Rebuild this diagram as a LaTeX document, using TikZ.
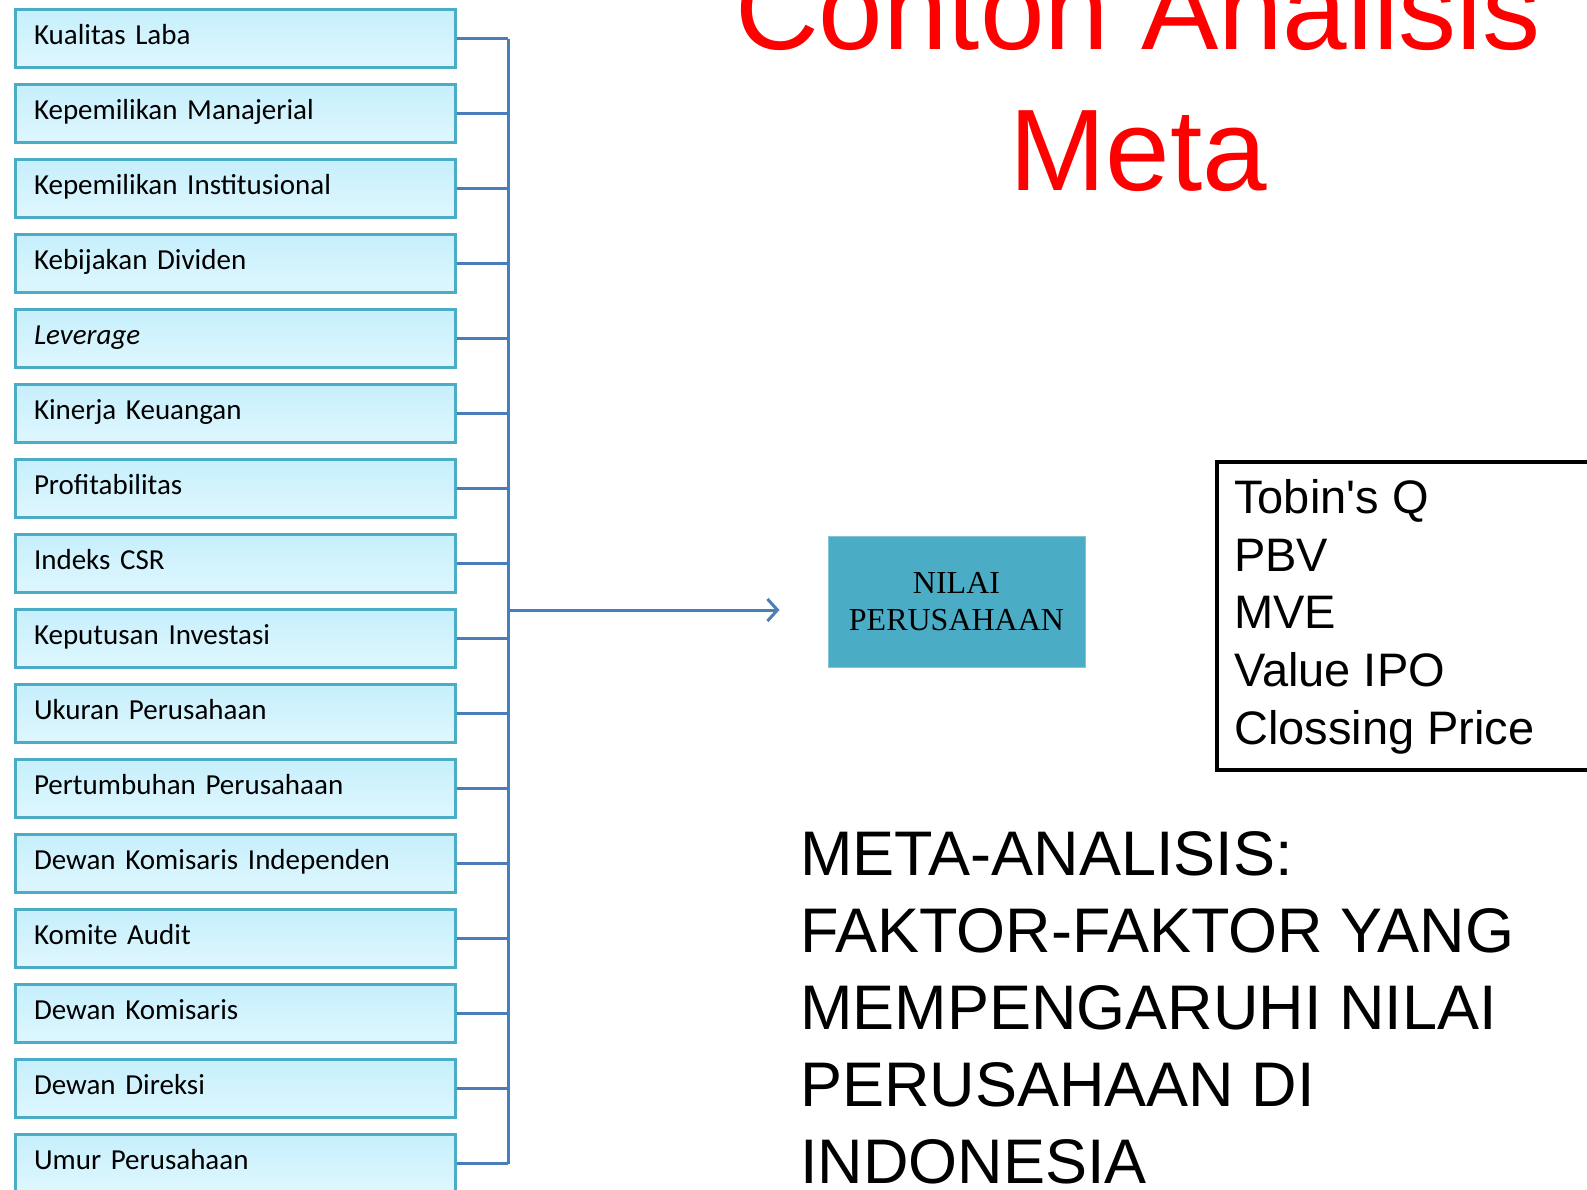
\documentclass[tikz,border=0pt]{standalone}
\usepackage{fontspec}
\setmainfont{Liberation Sans}
\newfontfamily\calfont{Carlito}
\newfontfamily\serfont{Liberation Serif}
\usetikzlibrary{positioning,arrows.meta}

\definecolor{boxline}{HTML}{4BACC6}
\definecolor{boxtop}{HTML}{C6EFFC}
\definecolor{boxmid}{HTML}{A3E8FB}
\definecolor{boxbot}{HTML}{DFF7FE}
\definecolor{linkblue}{HTML}{4A7EBB}

\begin{document}
\begin{tikzpicture}[x=1pt,y=1pt,
factor/.style={rectangle,draw=boxline,line width=3pt,minimum width=440pt,minimum height=58pt,
  inner xsep=19pt,text width=402pt,align=left,text height=20pt,text depth=7.7pt,
  top color=boxtop,middle color=boxmid,bottom color=boxbot,
  font=\calfont\fontsize{29}{34}\selectfont},
link/.style={draw=linkblue,line width=3pt},
valbox/.style={rectangle,fill=boxline,draw=boxline!70!white,line width=1pt,minimum width=257pt,minimum height=131pt,
  align=center,font=\serfont\fontsize{32}{37.5}\selectfont},
meas/.style={anchor=base west,inner sep=0pt,font=\fontsize{47}{56}\selectfont},
bigtext/.style={anchor=base west,inner sep=0pt,font=\fontsize{63}{77}\selectfont},
title/.style={anchor=base,inner sep=0pt,text=red,font=\fontsize{116}{140}\selectfont}]

\useasboundingbox (0,0) rectangle (1587,-1189);

% factor boxes
\node[factor] (kual) at (235,-38.7) {Kualitas Laba};
\node[factor,below=14pt of kual] (manaj) {Kepemilikan Manajerial};
\node[factor,below=14pt of manaj] (inst) {Kepemilikan Institusional};
\node[factor,below=14pt of inst] (divid) {Kebijakan Dividen};
\node[factor,below=14pt of divid] (lev) {\itshape Leverage};
\node[factor,below=14pt of lev] (kin) {Kinerja Keuangan};
\node[factor,below=14pt of kin] (prof) {Profitabilitas};
\node[factor,below=14pt of prof] (csr) {Indeks CSR};
\node[factor,below=14pt of csr] (inv) {Keputusan Investasi};
\node[factor,below=14pt of inv] (ukur) {Ukuran Perusahaan};
\node[factor,below=14pt of ukur] (tumb) {Pertumbuhan Perusahaan};
\node[factor,below=14pt of tumb] (dki) {Dewan Komisaris Independen};
\node[factor,below=14pt of dki] (komaud) {Komite Audit};
\node[factor,below=14pt of komaud] (dekom) {Dewan Komisaris};
\node[factor,below=14pt of dekom] (direk) {Dewan Direksi};
\node[factor,below=14pt of direk] (umur) {Umur Perusahaan};

% bus and connectors
\coordinate (bus) at (508,0);
\foreach \n in {kual,manaj,inst,divid,lev,kin,prof,csr,inv,ukur,tumb,dki,komaud,dekom,direk,umur}
  \draw[link] (\n.east) -- (\n.east -| bus);
\draw[link] (kual.east -| bus) -- (umur.east -| bus);

% dependent variable
\node[valbox] (nilai) at (956.5,-601.5) {NILAI\\PERUSAHAAN};
\coordinate (split) at (508,-610);
\draw[link,-{Straight Barb[length=10pt,width=22pt]},shorten >=48pt] (split) -- (split -| nilai.west);

% measures
\node[draw,line width=4pt,anchor=north west,minimum width=400pt,minimum height=308pt] (measbox) at (1215,-459.5) {};
\foreach \t [count=\i] in {Tobin\textquotesingle s Q,PBV,MVE,Value IPO,Clossing Price}
  \node[meas] (m\i) at (1234,{-513.5-57.7*(\i-1)}) {\t};

% title
\node[title] (tit1) at (1138,-49) {Contoh Analisis};
\node[title] (tit2) at (1138,-190) {Meta};

% study title
\foreach \t [count=\i] in {META-ANALISIS:,FAKTOR-FAKTOR YANG,MEMPENGARUHI NILAI,PERUSAHAAN DI,INDONESIA}
  \node[bigtext] (s\i) at (800,{-875-77*(\i-1)}) {\t};

\end{tikzpicture}
\end{document}
